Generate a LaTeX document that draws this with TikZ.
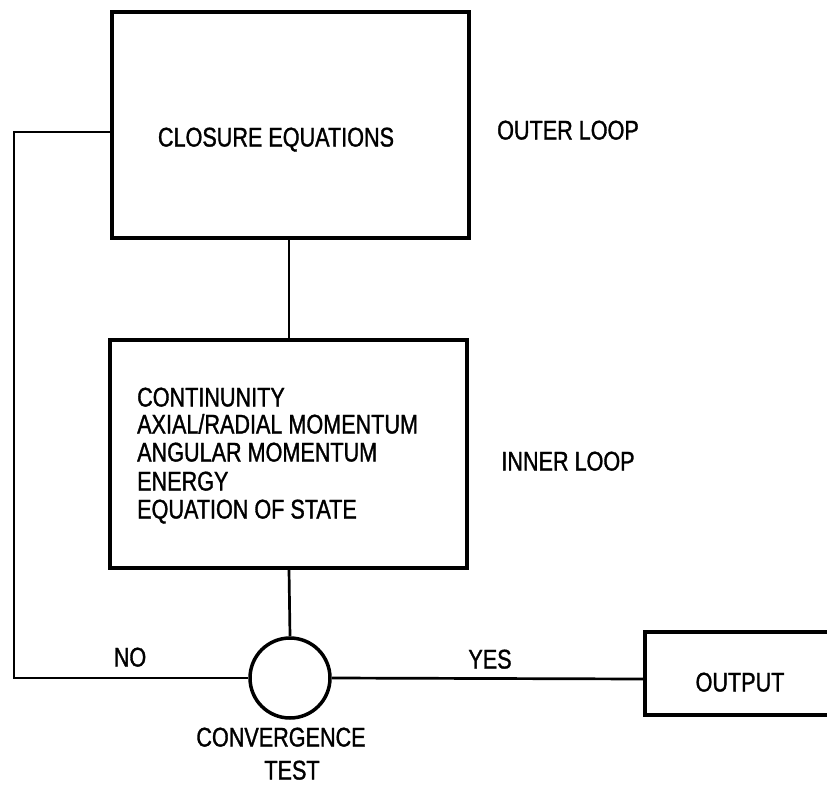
\documentclass[tikz,border=0pt]{standalone}
\usepackage{fontspec}
\setmainfont{Liberation Sans}[FakeStretch=0.8,FakeBold=1.2]
\begin{document}
\begin{tikzpicture}[x=1pt,y=-1pt,
  boxline/.style={line width=4pt},
  conn/.style={line width=2.7pt},
  lbl/.style={inner sep=0pt,font=\fontsize{27}{28}\selectfont,text height=19pt,text depth=0pt}]
\useasboundingbox (0,0) rectangle (827,787);
\clip (0,0) rectangle (827,787);
% boxes
\node[boxline,draw,minimum width=357pt,minimum height=226pt,inner sep=0pt] (closure) at (290.5,125) {};
\node[boxline,draw,minimum width=357pt,minimum height=228pt,inner sep=0pt] (inner) at (288.5,454) {};
\node[circle,draw,line width=3.5pt,minimum size=80pt,inner sep=0pt] (conv) at (290,678) {};
\node[boxline,draw,minimum width=215pt,minimum height=83pt,inner sep=0pt] (output) at (752.5,673.5) {};
\coordinate (closureW) at (112,132);
\coordinate (fbcorner1) at (14,132);
\coordinate (fbcorner2) at (14,678);
\coordinate (outW) at (645,679);
% connectors
\draw[conn] (closureW) -- (fbcorner1) -- (fbcorner2) -- (conv.west);
\draw[conn] (closure.south -| 289,0) -- (inner.north -| 289,0);
\draw[conn] (inner.south -| 289,0) -- (conv.north);
\draw[conn] (conv.east) -- (outW);
% texts
\node[lbl] (tclosure) at (276,137) {CLOSURE EQUATIONS};
\node[lbl] (touter) at (568,130) {OUTER LOOP};
\node[lbl] (tinner) at (568,461) {INNER LOOP};
\node[lbl,anchor=west] (l1) at (137,397) {CONTINUNITY};
\node[lbl,anchor=west] (l2) at (137,424) {AXIAL/RADIAL MOMENTUM};
\node[lbl,anchor=west] (l3) at (137,452) {ANGULAR MOMENTUM};
\node[lbl,anchor=west] (l4) at (137,481) {ENERGY};
\node[lbl,anchor=west] (l5) at (137,509) {EQUATION OF STATE};
\node[lbl] (tno) at (130,657) {NO};
\node[lbl] (tyes) at (490,659) {YES};
\node[lbl] (toutput) at (740,682) {OUTPUT};
\node[lbl] (tconv) at (281,737) {CONVERGENCE};
\node[lbl] (ttest) at (292,770) {TEST};
\end{tikzpicture}
\end{document}
